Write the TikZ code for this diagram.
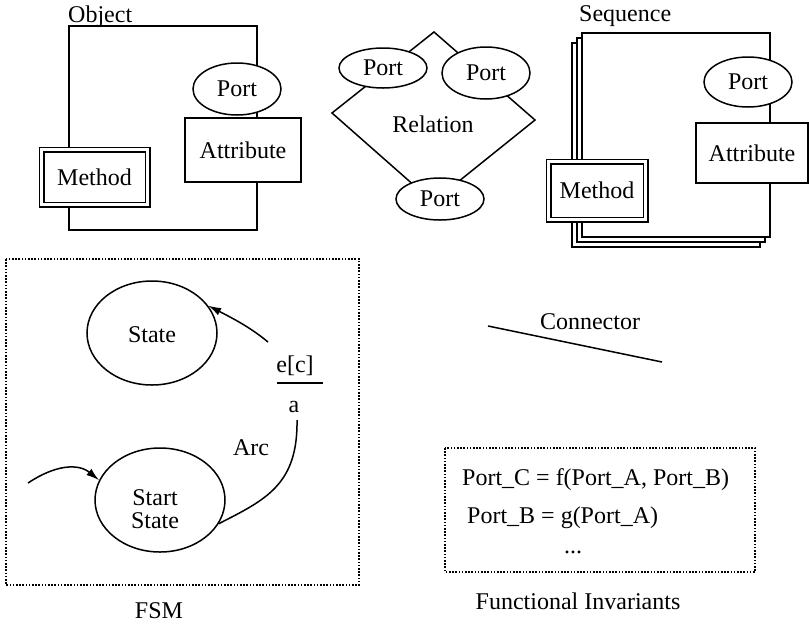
\documentclass[tikz,border=0pt]{standalone}
\usepackage{fontspec}
\setmainfont{Liberation Serif}
\usetikzlibrary{shapes.geometric,arrows.meta}
\begin{document}
\begin{tikzpicture}[x=1pt,y=-1pt,
  every node/.style={font=\fontsize{24}{23}\selectfont},
  ln/.style={line width=1.5pt},
  box/.style={ln,draw,fill=white,rectangle,inner sep=0pt},
  oval/.style={ln,draw,fill=white,ellipse,inner sep=0pt},
  dblbox/.style={draw,fill=white,rectangle,inner sep=0pt,line width=1.4pt,double,double distance=3.2pt},
  dotbox/.style={line width=1.8pt,dash pattern=on 1.6pt off 1.6pt},
  tip/.style={ln,-{Latex[length=13pt,width=8pt]}}]
\useasboundingbox (0,0) rectangle (809,625);

% ---------- Object ----------
\node[box,minimum width=188pt,minimum height=204pt] (obj) at (163,128) {};
\node[anchor=base west,inner sep=0pt] (objlbl) at (68,22) {Object};
\node[oval,minimum width=88pt,minimum height=52pt] (objport) at (237,89) {Port};
\node[box,minimum width=116pt,minimum height=64pt] (objattr) at (243,150) {Attribute};
\node[dblbox,minimum width=106pt,minimum height=55pt] (objmeth) at (94.5,177) {Method};

% ---------- Relation ----------
\coordinate (rt) at (434,32);
\coordinate (rr) at (535,120);
\coordinate (rb) at (433,202);
\coordinate (rl) at (332,113);
\draw[ln] (rt) -- (rr) -- (rb) -- (rl) -- cycle;
\node (rel) at (433,124) {Relation};
\node[oval,minimum width=88pt,minimum height=40pt] (rp1) at (383,68) {Port};
\node[oval,minimum width=88pt,minimum height=52pt] (rp2) at (486,73) {Port};
\node[oval,minimum width=88pt,minimum height=42pt] (rp3) at (440,199) {Port};

% ---------- Sequence ----------
\node[box,minimum width=188pt,minimum height=204pt] (seq3) at (666,145) {};
\node[box,minimum width=188pt,minimum height=204pt] (seq2) at (671,140) {};
\node[box,minimum width=188pt,minimum height=204pt] (seq1) at (676,135) {};
\node[anchor=base west,inner sep=0pt] (seqlbl) at (579,21) {Sequence};
\node[oval,minimum width=88pt,minimum height=50pt] (seqport) at (748,82) {Port};
\node[box,minimum width=112pt,minimum height=60pt] (seqattr) at (752,153) {Attribute};
\node[dblbox,minimum width=97pt,minimum height=58pt] (seqmeth) at (597,190.5) {Method};

% ---------- FSM ----------
\draw[dotbox] (6,259) rectangle (359,585);
\node (fsmlbl) at (159,611) {FSM};
\node[oval,minimum width=130pt,minimum height=104pt] (state) at (152,333) {};
\node (statelbl) at (152,335) {State};
\node[oval,minimum width=130pt,minimum height=104pt] (start) at (160,500) {};
\node[align=center,inner sep=0pt] (startlbl) at (155,509) {Start\\State};
\coordinate (tr1) at (268,342);
\draw[tip] (tr1) .. controls (250,327) and (232,318) .. (state.26);
\node (ec) at (295,366) {e[c]};
\coordinate (barL) at (277,383);
\coordinate (barR) at (323,383);
\draw[ln] (barL) -- (barR);
\node (act) at (294,407) {a};
\coordinate (arcS) at (297,420);
\draw[ln] (arcS) .. controls (298,485) and (265,500) .. (start.-22);
\node (arclbl) at (251,448) {Arc};
\coordinate (init) at (28,483);
\draw[tip] (init) .. controls (55,465) and (78,463) .. (start.162);

% ---------- Connector ----------
\coordinate (c1) at (488,326);
\coordinate (c2) at (662,362);
\draw[ln] (c1) -- (c2);
\node (conlbl) at (590,322) {Connector};

% ---------- Functional Invariants ----------
\draw[dotbox] (445,448) rectangle (755,572);
\node[anchor=west,inner sep=0pt] (inv1) at (462,480) {Port\_C = f(Port\_A, Port\_B)};
\node[anchor=west,inner sep=0pt] (inv2) at (467,518) {Port\_B = g(Port\_A)};
\node (inv3) at (573,552) {...};
\node (invlbl) at (578,601) {Functional Invariants};
\end{tikzpicture}
\end{document}
